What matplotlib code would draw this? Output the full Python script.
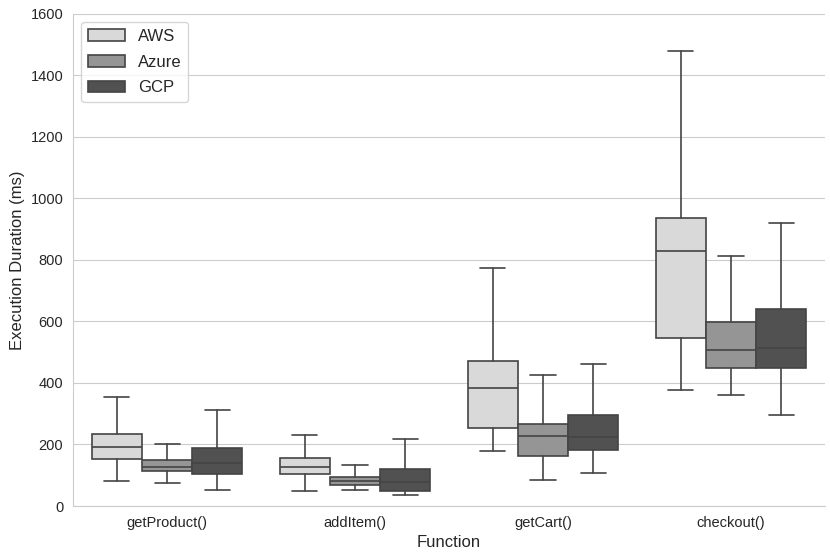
import numpy as np
import matplotlib
matplotlib.use("Agg")
import matplotlib.pyplot as plt
import matplotlib.patches as mpatches
import seaborn as sns

functions = ["getProduct()", "addItem()", "getCart()", "checkout()"]
providers = ["AWS", "Azure", "GCP"]

# box statistics per provider, one value per function (ms)
whislo = {
    "AWS":   [81, 49, 179, 378],
    "Azure": [75, 51, 85, 360],
    "GCP":   [53, 36, 108, 295],
}
q1 = {
    "AWS":   [153, 103, 255, 545],
    "Azure": [113, 68, 163, 449],
    "GCP":   [104, 50, 181, 449],
}
med = {
    "AWS":   [193, 128, 384, 828],
    "Azure": [127, 80, 226, 506],
    "GCP":   [141, 78, 225, 513],
}
q3 = {
    "AWS":   [234, 156, 471, 935],
    "Azure": [148, 94, 268, 597],
    "GCP":   [187, 119, 296, 639],
}
whishi = {
    "AWS":   [355, 232, 773, 1480],
    "Azure": [201, 134, 426, 814],
    "GCP":   [311, 219, 461, 921],
}

sns.set_style("whitegrid")
plt.rcParams["font.family"] = ["Liberation Sans", "DejaVu Sans"]

colors = sns.color_palette("Greys", 3)
linecol = "#444444"
lw = 1.2

fig = plt.figure(figsize=(8.3, 5.6), dpi=100)
ax = fig.add_axes([0.088, 0.0964, 0.906, 0.879])

w = 0.8 / 3
for j, p in enumerate(providers):
    stats = []
    for i in range(len(functions)):
        stats.append(dict(whislo=whislo[p][i], q1=q1[p][i], med=med[p][i],
                          q3=q3[p][i], whishi=whishi[p][i], fliers=[]))
    pos = np.arange(len(functions)) + (j - 1) * w
    ax.bxp(stats, positions=pos, widths=w, patch_artist=True, showfliers=False,
           capwidths=w / 2, manage_ticks=False,
           boxprops=dict(facecolor=colors[j], edgecolor=linecol, linewidth=lw),
           whiskerprops=dict(color=linecol, linewidth=lw),
           capprops=dict(color=linecol, linewidth=lw),
           medianprops=dict(color=linecol, linewidth=lw))

ax.set_xlim(-0.5, 3.5)
ax.set_ylim(0, 1600)
ax.set_xticks(range(len(functions)))
ax.set_xticklabels(functions)
ax.set_yticks(range(0, 1601, 200))
ax.tick_params(labelsize=10.5, colors=".15")
ax.xaxis.grid(False)
ax.set_xlabel("Function", fontsize=12, color=".15")
ax.set_ylabel("Execution Duration (ms)", fontsize=12, color=".15")
sns.despine(ax=ax)

handles = [mpatches.Patch(facecolor=colors[j], edgecolor=linecol, linewidth=lw, label=p)
           for j, p in enumerate(providers)]
ax.legend(handles=handles, loc="upper left", fontsize=12, labelspacing=0.65,
          handlelength=2.2)

fig.savefig("out.png", dpi=100)
